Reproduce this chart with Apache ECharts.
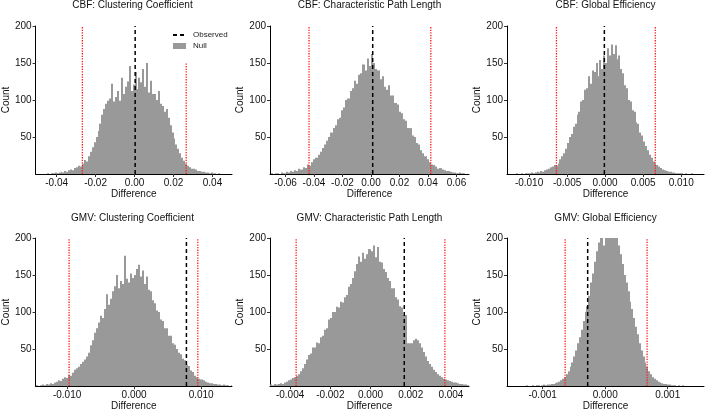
<!DOCTYPE html>
<html>
<head>
<meta charset="utf-8">
<script src="https://cdn.jsdelivr.net/npm/echarts@6/dist/echarts.min.js"></script>
<style>
  html, body { margin: 0; padding: 0; background: #fff; }
  #chart { width: 709px; height: 412px; }
</style>
</head>
<body>
<div id="chart"></div>
<script>
const titles = [
    'CBF: Clustering Coefficient',
    'CBF: Characteristic Path Length',
    'CBF: Global Efficiency',
    'GMV: Clustering Coefficient',
    'GMV: Characteristic Path Length',
    'GMV: Global Efficiency'
];

// histogram bins: first edge, width, counts
const binStart = [-0.046, -0.0705, -0.0125, -0.0147, -0.005, -0.0015];
const binWidth = [0.001, 0.0015, 0.00025, 0.0003, 0.0001, 0.00003];

const cbfClustering = [
    0, 1, 0, 1, 1, 2,
    1, 2, 3, 2, 4, 3, 5, 6, 5, 8,
    9, 11, 10, 14, 19, 17, 24, 30, 36, 43,
    50, 58, 68, 80, 88, 95, 99, 102, 122, 98,
    104, 112, 99, 130, 108, 118, 125, 146, 112, 121,
    138, 115, 130, 124, 142, 118, 150, 110, 126, 108,
    108, 100, 112, 95, 92, 84, 88, 76, 66, 56,
    48, 40, 34, 28, 22, 18, 14, 11, 9, 7,
    7, 6, 4, 4, 3, 3, 2, 2, 1, 2,
    1, 1, 0, 1, 0
];
const cbfPathLength = [
    1, 0, 1, 1, 0, 2, 1, 3, 2, 4,
    3, 5, 4, 7, 6, 9, 8, 13, 11, 16,
    20, 22, 26, 30, 35, 40, 45, 50, 56, 62,
    66, 74, 76, 86, 90, 100, 102, 112, 116, 126,
    122, 134, 136, 148, 140, 156, 146, 162, 150, 142,
    140, 128, 132, 118, 114, 120, 106, 106, 96, 94,
    84, 82, 74, 72, 62, 62, 52, 50, 42, 40,
    32, 28, 24, 20, 16, 13, 12, 10, 7, 8,
    6, 5, 4, 4, 3, 2, 2, 1, 2, 1,
    1, 0
];
const cbfEfficiency = [
    0, 0, 0, 1, 0, 0, 1, 0, 1, 1,
    1, 2, 1, 2, 3, 2, 4, 3, 5, 6,
    7, 9, 10, 12, 11, 14, 20, 24, 28, 34,
    42, 50, 54, 64, 68, 80, 84, 98, 100, 114,
    116, 132, 122, 140, 138, 150, 132, 154, 142, 160,
    150, 170, 160, 175, 162, 174, 155, 160, 142, 136,
    120, 116, 100, 98, 86, 84, 70, 68, 56, 52,
    44, 38, 32, 26, 22, 17, 14, 12, 10, 8,
    6, 5, 4, 3, 3, 2, 2, 1, 1, 1,
    1, 0, 1, 0, 0, 1, 0, 0, 0, 0
];
const gmvClustering = [
    1, 0, 1, 2, 1, 3, 2, 4, 3, 5,
    6, 8, 7, 10, 12, 11, 15, 14, 18, 22,
    24, 26, 30, 33, 36, 40, 45, 55, 62, 72,
    78, 86, 95, 92, 104, 124, 110, 118, 128, 135,
    150, 132, 142, 138, 176, 145, 140, 152, 146, 150,
    158, 164, 148, 156, 138, 148, 130, 128, 116, 112,
    102, 100, 90, 88, 78, 78, 68, 68, 58, 56,
    50, 45, 43, 37, 35, 29, 27, 21, 19, 14,
    12, 10, 9, 8, 6, 5, 4, 4, 3, 3,
    2, 2, 1, 2, 1, 1, 0, 1
];
const gmvPathLength = [
    2, 1, 3, 2, 3, 4, 3, 5, 6, 8,
    9, 11, 12, 14, 16, 20, 24, 30, 36, 42,
    44, 52, 52, 59, 58, 66, 68, 76, 78, 90,
    92, 100, 100, 107, 106, 114, 113, 120, 123, 134,
    138, 146, 155, 165, 175, 168, 180, 172, 178, 185,
    182, 190, 174, 188, 168, 167, 158, 154, 146, 142,
    132, 132, 120, 117, 108, 106, 96, 96, 58, 58,
    58, 62, 64, 62, 58, 52, 46, 40, 34, 30,
    26, 22, 19, 16, 14, 12, 10, 9, 8, 7,
    6, 5, 5, 4, 3, 3, 2, 2, 1
];
const gmvEfficiency = [
    0, 0, 0, 0, 0, 0, 0, 0, 1, 0,
    0, 1, 0, 1, 1, 0, 1, 2, 1, 2,
    2, 3, 3, 4, 5, 6, 8, 10, 12, 16,
    20, 26, 32, 40, 48, 58, 66, 76, 88, 100,
    108, 122, 140, 152, 168, 182, 194, 205, 215, 190,
    220, 210, 230, 215, 205, 225, 200, 190, 178, 165,
    150, 140, 128, 114, 104, 92, 80, 70, 58, 48,
    40, 32, 26, 20, 16, 12, 10, 8, 6, 5,
    4, 3, 3, 2, 2, 1, 1, 1, 0, 1,
    0, 1, 0, 0, 0, 0, 0, 0, 0, 0
];
const nullCounts = [cbfClustering, cbfPathLength, cbfEfficiency, gmvClustering, gmvPathLength, gmvEfficiency];

const observed = [0.0003, 0.0012, -0.0001, 0.0078, 0.00168, -0.00028];
const nullLower = [-0.0268, -0.0435, -0.0064, -0.0097, -0.0037, -0.00064];
const nullUpper = [0.0265, 0.0420, 0.0066, 0.0095, 0.0037, 0.00067];

const xMin = [-0.0508, -0.0709, -0.0129, -0.0147, -0.0050, -0.00157];
const xMax = [0.0500, 0.0688, 0.0130, 0.0146, 0.0049, 0.00158];
const xTicks = [
    [-0.04, -0.02, 0, 0.02, 0.04],
    [-0.06, -0.04, -0.02, 0, 0.02, 0.04, 0.06],
    [-0.01, -0.005, 0, 0.005, 0.01],
    [-0.01, 0, 0.01],
    [-0.004, -0.002, 0, 0.002, 0.004],
    [-0.001, 0, 0.001]
];
const xDecimals = [2, 2, 3, 3, 3, 3];
const yTicks = [50, 100, 150, 200];
const yMax = 200;

const font = 'Liberation Sans, Arial, sans-serif';
const grids = [
    { left: 33, top: 26, width: 199, height: 148 },
    { left: 270, top: 26, width: 199, height: 148 },
    { left: 507, top: 26, width: 197, height: 148 },
    { left: 33, top: 238, width: 199, height: 149 },
    { left: 270, top: 238, width: 199, height: 149 },
    { left: 507, top: 238, width: 197, height: 149 }
];

const renderBin = (params, api) => {
    const top = api.coord([api.value(0), api.value(2)]);
    const bottom = api.coord([api.value(1), 0]);
    const x0 = Math.round(top[0]);
    const x1 = Math.round(bottom[0]);
    const shape = echarts.graphic.clipRectByRect(
        { x: x0, y: top[1], width: Math.max(x1 - x0, 1), height: bottom[1] - top[1] },
        { x: params.coordSys.x, y: params.coordSys.y, width: params.coordSys.width, height: params.coordSys.height }
    );
    return shape && { type: 'rect', shape: shape, style: { fill: '#999999' } };
};

const vline = (name, x, i, style) => ({
    name: name,
    type: 'line',
    xAxisIndex: i,
    yAxisIndex: i,
    data: [[x, 0], [x, yMax]],
    symbol: 'none',
    silent: true,
    lineStyle: style,
    z: 3
});

const series = [];
nullCounts.forEach((counts, i) => {
    series.push({
        name: 'Null',
        type: 'custom',
        xAxisIndex: i,
        yAxisIndex: i,
        renderItem: renderBin,
        itemStyle: { color: '#999999' },
        encode: { x: [0, 1], y: 2 },
        data: counts.map((c, k) => [binStart[i] + k * binWidth[i], binStart[i] + (k + 1) * binWidth[i], c])
    });
    series.push(vline('lower', nullLower[i], i, { color: '#ff1a1a', type: [1.3, 1.3], width: 1.3 }));
    series.push(vline('upper', nullUpper[i], i, { color: '#ff1a1a', type: [1.3, 1.3], width: 1.3 }));
    series.push(vline('Observed', observed[i], i, { color: '#000', type: [4, 3], width: 1.5 }));
});

const option = {
    animation: false,
    textStyle: { fontFamily: font },
    title: titles.map((t, i) => ({
        text: t,
        left: grids[i].left + grids[i].width / 2,
        top: i < 3 ? 0 : 213,
        padding: 0,
        textAlign: 'center',
        textStyle: { fontSize: 10, fontWeight: 'normal', color: '#111', fontFamily: font }
    })),
    legend: {
        left: 170,
        top: 26,
        orient: 'vertical',
        padding: [5, 4, 13, 2],
        itemGap: 3,
        itemWidth: 13,
        itemHeight: 6,
        backgroundColor: '#fff',
        selectedMode: false,
        textStyle: { fontSize: 8, color: '#222', fontFamily: font, padding: [0, 0, 0, 2] },
        data: [
            { name: 'Observed', itemStyle: { opacity: 0 } },
            { name: 'Null', icon: 'rect' }
        ]
    },
    grid: grids,
    xAxis: grids.map((g, i) => ({
        type: 'value',
        gridIndex: i,
        min: xMin[i],
        max: xMax[i],
        name: 'Difference',
        nameLocation: 'middle',
        nameGap: 14,
        nameTextStyle: { fontSize: 10, color: '#111', fontFamily: font },
        splitLine: { show: false },
        axisLine: { onZero: false, lineStyle: { color: '#000', width: 1 } },
        axisTick: { length: 3, lineStyle: { color: '#333' }, customValues: xTicks[i] },
        axisLabel: {
            customValues: xTicks[i],
            fontSize: 10,
            color: '#111',
            margin: 4,
            formatter: v => v.toFixed(xDecimals[i])
        }
    })),
    yAxis: grids.map((g, i) => ({
        type: 'value',
        gridIndex: i,
        min: 0,
        max: yMax,
        name: 'Count',
        nameLocation: 'middle',
        nameRotate: 90,
        nameGap: 20,
        nameTextStyle: { fontSize: 10, color: '#111', fontFamily: font },
        splitLine: { show: false },
        axisLine: { show: true, onZero: false, lineStyle: { color: '#000', width: 1 } },
        axisTick: { show: true, length: 3, lineStyle: { color: '#333' }, customValues: yTicks },
        axisLabel: { customValues: yTicks, fontSize: 10, color: '#111', margin: 4 }
    })),
    series: series
};

const myChart = echarts.init(document.getElementById('chart'));
myChart.setOption(option);
</script>
</body>
</html>
